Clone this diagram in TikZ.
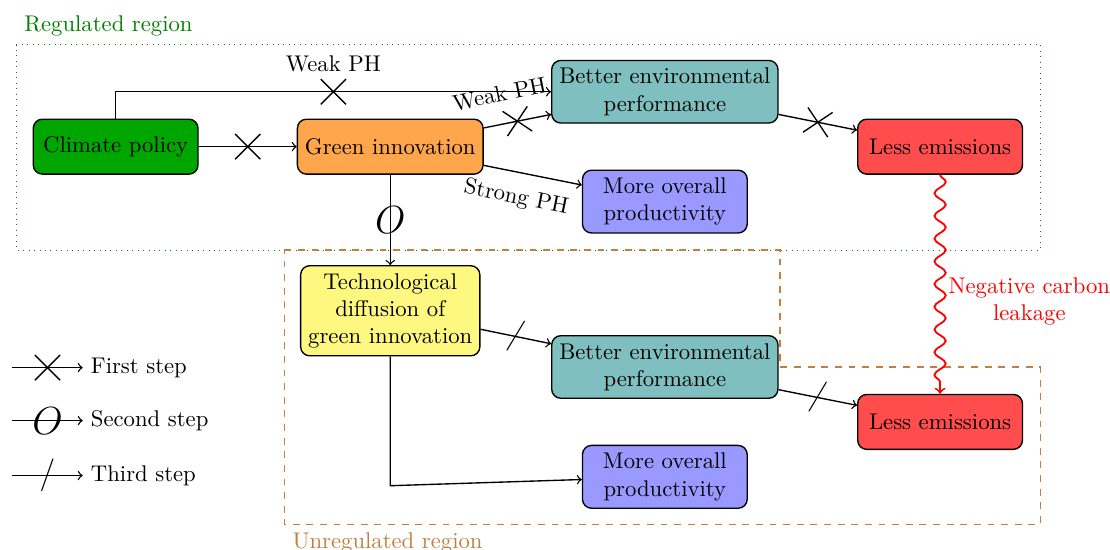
\documentclass[tikz,border=0pt]{standalone}
\usetikzlibrary{decorations.pathmorphing,shapes.misc}
\begin{document}
\begin{tikzpicture}[semithick,
 box/.style={draw,rounded corners,align=center,minimum width=2.55cm,minimum height=0.85cm},
 cross/.style={sloped,draw,cross out,minimum size=10.5pt,inner sep=0pt},
 circ/.style={font=\LARGE,inner sep=0pt},
 slash/.style={sloped,font=\Large,inner sep=0pt}]
 \useasboundingbox (0,0) rectangle (17.18,8.51);
 \draw[green!50!black,thin,dotted] (0.25,7.82) rectangle (16.10,4.64);
 \node[green!50!black,anchor=south west] (reg) at (0.25,7.82) {Regulated region};
 \draw[brown,dashed] (4.40,4.64) -- (12.07,4.64) -- (12.07,2.83) -- (16.10,2.83) -- (16.10,0.39) -- (4.40,0.39) -- cycle;
 \node[brown,anchor=north west] (unreg) at (4.40,0.39) {Unregulated region};
 \node[box,fill=green!65!black] (climate) at (1.79,6.24) {Climate policy};
 \node[box,fill=orange!70] (innov) at (6.04,6.24) {Green innovation};
 \node[box,fill=teal!50] (envA) at (10.29,7.09) {Better environmental\\performance};
 \node[box,fill=blue!40] (prodA) at (10.29,5.39) {More overall\\productivity};
 \node[box,fill=red!70] (lessA) at (14.55,6.24) {Less emissions};
 \node[box,fill=yellow!50] (diffus) at (6.04,3.70) {Technological\\diffusion of\\green innovation};
 \node[box,fill=teal!50] (envB) at (10.29,2.83) {Better environmental\\performance};
 \node[box,fill=blue!40] (prodB) at (10.29,1.13) {More overall\\productivity};
 \node[box,fill=red!70] (lessB) at (14.55,1.98) {Less emissions};
 \draw[->] (climate) -- (innov) node[cross,midway]{};
 \draw[->] (climate.north) |- (envA) node[cross,pos=0.75]{} node[pos=0.75,above=5pt]{Weak PH};
 \draw[->] (innov) -- (envA) node[cross,midway]{} node[sloped,pos=0.32,above=6pt]{Weak PH};
 \draw[->] (innov) -- (prodA) node[sloped,pos=0.38,below=3pt]{Strong PH};
 \draw[->] (envA) -- (lessA) node[cross,midway]{};
 \draw[->] (innov) -- (diffus) node[circ,midway]{$O$};
 \draw[->] (diffus) -- (envB) node[slash,midway]{$/$};
 \draw[->] (diffus.south) -- ++(0,-2) -- (prodB);
 \draw[->] (envB) -- (lessB) node[slash,midway]{$/$};
 \draw[->,red,thick,decorate,decoration={snake,post length=1mm}] (lessA) -- (lessB) node[pos=0.58,right,align=center]{Negative carbon\\leakage};
 \coordinate (l1) at (0.19,2.82);
 \node[right] (t1) at (1.28,2.82) {First step};
 \draw[->] (l1) -- (t1) node[cross,midway]{};
 \coordinate (l2) at (0.19,2.00);
 \node[right] (t2) at (1.28,2.00) {Second step};
 \draw[->] (l2) -- (t2) node[circ,midway]{$O$};
 \coordinate (l3) at (0.19,1.15);
 \node[right] (t3) at (1.28,1.15) {Third step};
 \draw[->] (l3) -- (t3) node[slash,midway]{$/$};
\end{tikzpicture}
\end{document}
